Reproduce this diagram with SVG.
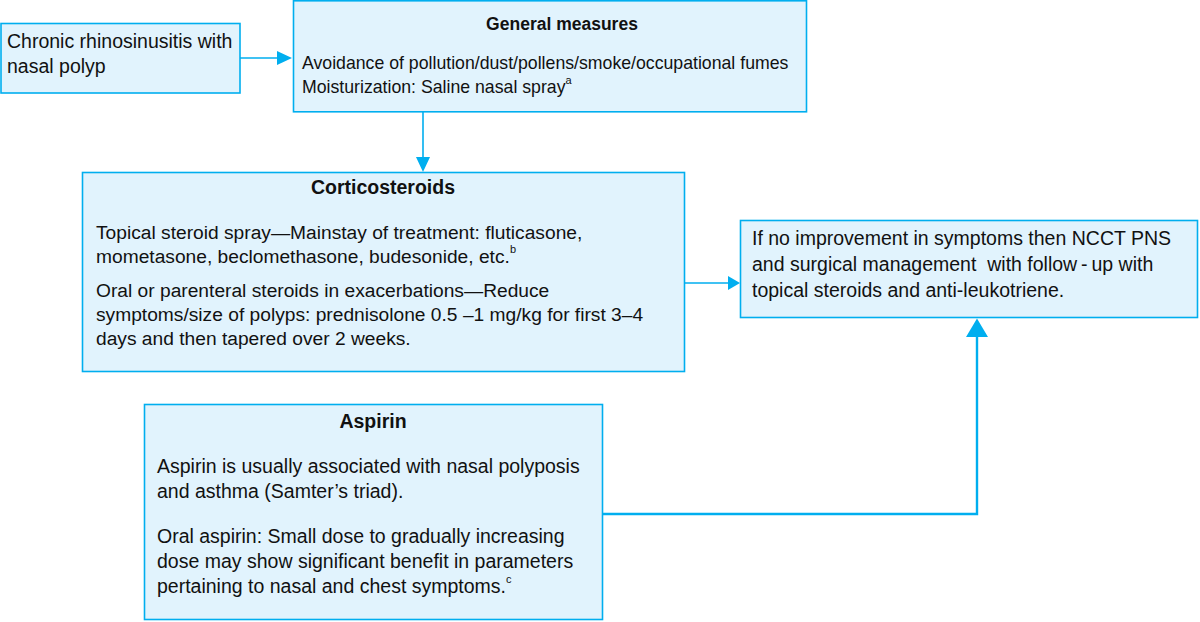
<svg xmlns="http://www.w3.org/2000/svg" width="1200" height="622" viewBox="0 0 1200 622">
<style>
.box{fill:#e1f3fd;stroke:#00aeef;stroke-width:1.6}
.t{font-family:"Liberation Sans",Arial,sans-serif;font-size:19.5px;fill:#111}
.tm{font-family:"Liberation Sans",Arial,sans-serif;font-size:19.2px;fill:#111}
.ts{font-family:"Liberation Sans",Arial,sans-serif;font-size:17.7px;fill:#111}
.h{font-family:"Liberation Sans",Arial,sans-serif;font-size:19.5px;font-weight:bold;fill:#111;text-anchor:middle}
.hs{font-family:"Liberation Sans",Arial,sans-serif;font-size:17.5px;font-weight:bold;fill:#111;text-anchor:middle}
.sup{font-size:11px}
.c{fill:none;stroke:#00aeef;stroke-width:1.6}
.c2{fill:none;stroke:#00aeef;stroke-width:2.4}
.ah{fill:#00aeef}
</style>
<rect width="1200" height="622" fill="#ffffff"/>
<g id="n1">
<rect class="box" x="1" y="23.5" width="239" height="69.5"/>
<text class="t" x="7" y="48">Chronic rhinosinusitis with</text>
<text class="t" x="7" y="73">nasal polyp</text>
</g>
<g id="n2">
<rect class="box" x="293.5" y="0.8" width="513" height="111"/>
<text class="hs" x="562" y="30">General measures</text>
<text class="ts" x="302" y="69">Avoidance of pollution/dust/pollens/smoke/occupational fumes</text>
<text class="ts" x="302" y="93">Moisturization: Saline nasal spray<tspan class="sup" dy="-9">a</tspan></text>
</g>
<g id="n3">
<rect class="box" x="82.5" y="172.5" width="602" height="199"/>
<text class="h" x="383" y="194">Corticosteroids</text>
<text class="tm" x="96" y="239">Topical steroid spray—Mainstay of treatment: fluticasone,</text>
<text class="tm" x="96" y="263">mometasone, beclomethasone, budesonide, etc.<tspan class="sup" dy="-10">b</tspan></text>
<text class="tm" x="96" y="297">Oral or parenteral steroids in exacerbations—Reduce</text>
<text class="tm" x="96" y="321">symptoms/size of polyps: prednisolone 0.5 –1 mg/kg for first 3–4</text>
<text class="tm" x="96" y="345">days and then tapered over 2 weeks.</text>
</g>
<g id="n4">
<rect class="box" x="740.5" y="220.5" width="457" height="97"/>
<text class="t" x="752" y="245">If no improvement in symptoms then NCCT PNS</text>
<text class="t" x="752" y="271">and surgical management&#160; with follow&#8201;-&#8201;up with</text>
<text class="t" x="752" y="297">topical steroids and anti-leukotriene.</text>
</g>
<g id="n5">
<rect class="box" x="144.5" y="404.5" width="458" height="215"/>
<text class="h" x="373" y="428">Aspirin</text>
<text class="t" x="157" y="473">Aspirin is usually associated with nasal polyposis</text>
<text class="t" x="157" y="498">and asthma (Samter’s triad).</text>
<text class="t" x="157" y="543">Oral aspirin: Small dose to gradually increasing</text>
<text class="t" x="157" y="568">dose may show significant benefit in parameters</text>
<text class="t" x="157" y="593">pertaining to nasal and chest symptoms.<tspan class="sup" dy="-10">c</tspan></text>
</g>
<g id="connectors">
<line class="c" x1="240" y1="58" x2="278" y2="58"/>
<polygon class="ah" points="277,51 292,58 277,65"/>
<line class="c" x1="423" y1="112" x2="423" y2="158"/>
<polygon class="ah" points="416,157 423,172 430,157"/>
<line class="c" x1="685" y1="283" x2="729" y2="283"/>
<polygon class="ah" points="728,276 740,283 728,290"/>
<polyline class="c2" points="603,514 977,514 977,335"/>
<polygon class="ah" points="966,337 977,318.5 988,337"/>
</g>
</svg>
